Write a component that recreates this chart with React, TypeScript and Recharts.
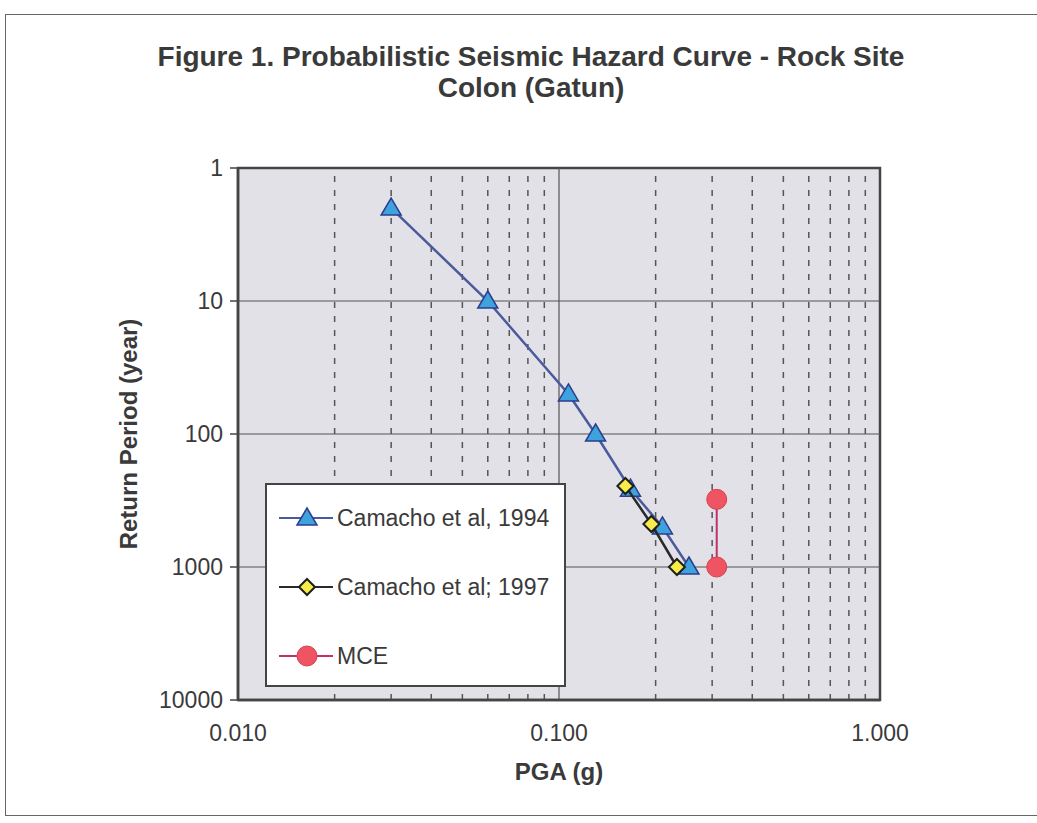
import React from 'react';
import {
  ScatterChart,
  Scatter,
  XAxis,
  YAxis,
  ReferenceArea,
  ReferenceLine,
  Legend,
} from 'recharts';

// Camacho et al, 1994
const pga1994 = [0.03, 0.06, 0.107, 0.13, 0.167, 0.21, 0.254];
const rp1994 = [2, 10, 50, 100, 260, 500, 1000];
// Camacho et al; 1997
const pga1997 = [0.161, 0.194, 0.233];
const rp1997 = [246, 475, 1000];
// MCE
const pgaMce = [0.31, 0.31];
const rpMce = [310, 1000];

const xTicks = [0.01, 0.1, 1];
const yTicks = [1, 10, 100, 1000, 10000];
const xMinor = [0.02, 0.03, 0.04, 0.05, 0.06, 0.07, 0.08, 0.09, 0.2, 0.3, 0.4, 0.5, 0.6, 0.7, 0.8, 0.9];
const yMajor = [10, 100, 1000];

const toPoints = (xs: number[], ys: number[]) => xs.map((pga, i) => ({ pga, rp: ys[i] }));

const data1994 = toPoints(pga1994, rp1994);
const data1997 = toPoints(pga1997, rp1997);
const dataMce = toPoints(pgaMce, rpMce);

const FONT = '"Liberation Sans", Arial, sans-serif';
const TEXT = '#3a3a3a';

const Triangle = ({ cx, cy }: any) => (
  <path
    d={`M${cx},${cy - 10} L${cx + 10},${cy + 7} L${cx - 10},${cy + 7} Z`}
    fill="#3ea3dc"
    stroke="#2c3d8e"
    strokeWidth={1.5}
  />
);

const Diamond = ({ cx, cy }: any) => (
  <path
    d={`M${cx},${cy - 8} L${cx + 8},${cy} L${cx},${cy + 8} L${cx - 8},${cy} Z`}
    fill="#f8ec4a"
    stroke="#1e1e1e"
    strokeWidth={2}
  />
);

const Circle = ({ cx, cy }: any) => (
  <circle cx={cx} cy={cy} r={10} fill="#ee5462" stroke="#d8404f" strokeWidth={1} />
);

const STYLES: Record<string, { line: string; shape: (p: any) => React.ReactElement }> = {
  'Camacho et al, 1994': { line: '#4a5a9e', shape: Triangle },
  'Camacho et al; 1997': { line: '#2a2a2a', shape: Diamond },
  MCE: { line: '#c0306a', shape: Circle },
};

const renderLegend = (props: any) => {
  const { payload = [] } = props;
  return (
    <div
      style={{
        width: 301,
        height: 204,
        background: '#fff',
        border: '2px solid #444',
        boxSizing: 'border-box',
        position: 'relative',
      }}
    >
      {payload.map((entry: any, i: number) => {
        const st = STYLES[entry.value];
        if (!st) return null;
        const Shape = st.shape;
        return (
          <div
            key={entry.value}
            style={{
              position: 'absolute',
              left: 11,
              top: 18 + i * 69,
              height: 30,
              display: 'flex',
              alignItems: 'center',
            }}
          >
            <svg width={56} height={30}>
              <line x1={1} x2={55} y1={15} y2={15} stroke={st.line} strokeWidth={2} />
              <Shape cx={29} cy={15} />
            </svg>
            <span style={{ marginLeft: 3, fontSize: 23, fontFamily: FONT, color: TEXT }}>
              {entry.value}
            </span>
          </div>
        );
      })}
    </div>
  );
};

export default function App() {
  return (
    <div
      style={{
        position: 'absolute',
        left: 0,
        top: 0,
        width: 1037,
        height: 823,
        background: '#fff',
        overflow: 'hidden',
      }}
    >
      {/* scanned page frame, open on the right */}
      <div
        style={{
          position: 'absolute',
          left: 5,
          top: 14,
          width: 1032,
          height: 802,
          borderLeft: '1.5px solid #666',
          borderTop: '1.5px solid #666',
          borderBottom: '1.5px solid #666',
          boxSizing: 'border-box',
        }}
      />
      <div
        style={{
          position: 'absolute',
          left: 31,
          top: 41,
          width: 1000,
          textAlign: 'center',
          fontFamily: FONT,
          fontWeight: 'bold',
          fontSize: 28,
          lineHeight: '31px',
          color: TEXT,
        }}
      >
        Figure 1. Probabilistic Seismic Hazard Curve - Rock Site
        <br />
        Colon (Gatun)
      </div>
      <div style={{ position: 'absolute', left: 0, top: 0 }}>
        <ScatterChart width={1037} height={823} margin={{ top: 168, right: 157, bottom: 33, left: 128 }}>
          <XAxis
            type="number"
            dataKey="pga"
            scale="log"
            domain={[0.01, 1]}
            ticks={xTicks}
            allowDataOverflow
            tickFormatter={(v: number) => v.toFixed(3)}
            tick={{ fontSize: 23, fontFamily: FONT, fill: TEXT }}
            tickLine={false}
            tickSize={8}
            tickMargin={17}
            axisLine={{ stroke: '#444', strokeWidth: 2.5 }}
            height={90}
            label={{
              value: 'PGA (g)',
              position: 'insideBottom',
              offset: 10,
              style: { fontSize: 24, fontWeight: 'bold', fontFamily: FONT, fill: TEXT },
            }}
          />
          <YAxis
            type="number"
            dataKey="rp"
            scale="log"
            domain={[1, 10000]}
            ticks={yTicks}
            reversed
            allowDataOverflow
            tickFormatter={(v: number) => String(v)}
            tick={{ fontSize: 23, fontFamily: FONT, fill: TEXT }}
            tickLine={{ stroke: '#444', strokeWidth: 1.5 }}
            tickSize={8}
            tickMargin={7}
            axisLine={{ stroke: '#444', strokeWidth: 2.5 }}
            width={110}
            label={{
              value: 'Return Period (year)',
              angle: -90,
              position: 'insideLeft',
              offset: 0,
              style: { textAnchor: 'middle', fontSize: 24, fontWeight: 'bold', fontFamily: FONT, fill: TEXT },
            }}
          />
          <ReferenceArea
            x1={0.01}
            x2={1}
            y1={1}
            y2={10000}
            fill="#e1e1e7"
            fillOpacity={1}
            stroke="#444"
            strokeWidth={2.5}
          />
          {xMinor.map((v) => (
            <ReferenceLine key={`vx-${v}`} x={v} stroke="#555" strokeWidth={1.5} strokeDasharray="6 8" />
          ))}
          <ReferenceLine x={0.1} stroke="#555" strokeWidth={1.2} />
          {yMajor.map((v) => (
            <ReferenceLine key={`hy-${v}`} y={v} stroke="#555" strokeWidth={1.2} />
          ))}
          <Legend
            layout="vertical"
            align="center"
            verticalAlign="middle"
            content={renderLegend}
            wrapperStyle={{ left: 265, top: 483, width: 301, height: 204 }}
          />
          <Scatter
            name="Camacho et al, 1994"
            data={data1994}
            line={{ stroke: '#4a5a9e', strokeWidth: 2.5 }}
            lineType="joint"
            shape={Triangle}
            fill="#3ea3dc"
            isAnimationActive={false}
          />
          <Scatter
            name="Camacho et al; 1997"
            data={data1997}
            line={{ stroke: '#2a2a2a', strokeWidth: 2.5 }}
            lineType="joint"
            shape={Diamond}
            fill="#f8ec4a"
            isAnimationActive={false}
          />
          <Scatter
            name="MCE"
            data={dataMce}
            line={{ stroke: '#c0306a', strokeWidth: 2 }}
            lineType="joint"
            shape={Circle}
            fill="#ee5462"
            isAnimationActive={false}
          />
        </ScatterChart>
      </div>
    </div>
  );
}
